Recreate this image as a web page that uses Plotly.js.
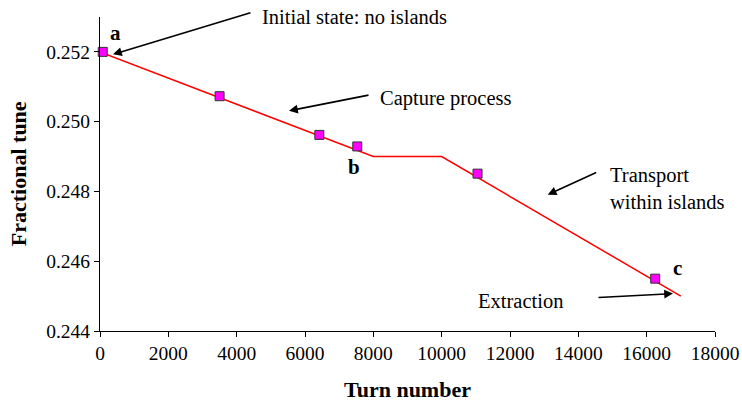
<!DOCTYPE html>
<html>
<head>
<meta charset="utf-8">
<script src="https://cdn.plot.ly/plotly-3.0.1.min.js"></script>
<style>html,body{margin:0;padding:0;background:#fff;}#chart{width:742px;height:405px;}</style>
</head>
<body>
<div id="chart"></div>
<script>
var lineTurns = [0, 8000, 10000, 17000];
var lineTune = [0.252, 0.249, 0.249, 0.245];
var markerTurns = [80, 3500, 6420, 7530, 11050, 16250];
var markerTune = [0.252, 0.25073, 0.24962, 0.24929, 0.24851, 0.2455];
var xTickVals = [0, 2000, 4000, 6000, 8000, 10000, 12000, 14000, 16000, 18000];
var xTickText = ['0', '2000', '4000', '6000', '8000', '10000', '12000', '14000', '16000', '18000'];
var yTickVals = [0.244, 0.246, 0.248, 0.250, 0.252];
var yTickText = ['0.244', '0.246', '0.248', '0.250', '0.252'];
var xTitle = 'Turn number';
var yTitle = 'Fractional tune';

var FONT = 'Liberation Serif';

var traces = [
  {x: lineTurns, y: lineTune, mode: 'lines', type: 'scatter',
   line: {color: '#ff0000', width: 1.5}, hoverinfo: 'skip', cliponaxis: false},
  {x: markerTurns, y: markerTune, mode: 'markers', type: 'scatter',
   marker: {symbol: 'square', size: 9, color: '#ff00ff', line: {color: '#333333', width: 1}},
   cliponaxis: false}
];

var arrowBase = {text: '', showarrow: true, arrowhead: 2, arrowsize: 1.1, arrowwidth: 1.6,
  arrowcolor: '#000', standoff: 0, startstandoff: 0, xref: 'x', yref: 'y'};
function arrow(x, y, ax, ay) { return Object.assign({}, arrowBase, {x: x, y: y, ax: ax, ay: ay}); }
function label(x, y, t, opts) {
  return Object.assign({x: x, y: y, xref: 'x', yref: 'y', text: t, showarrow: false,
    xanchor: 'left', yanchor: 'middle', align: 'left',
    font: {family: FONT, size: 20.5, color: '#000'}}, opts || {});
}
var bold = {xanchor: 'center', font: {family: FONT, size: 21, color: '#000', weight: 'bold'}};
var titleFont = {family: FONT, size: 22, color: '#000'};

var annotations = [
  arrow(380, 0.25193, 139, -42),
  arrow(5532, 0.25031, 81, -16),
  arrow(13104, 0.247906, 50, -23),
  arrow(16771, 0.245073, -76, 4),
  label(4683, 0.253, 'Initial state: no islands'),
  label(8137, 0.250653, 'Capture process'),
  label(14868, 0.248078, 'Transport<br>within islands'),
  label(11005, 0.244853, 'Extraction'),
  label(468, 0.252542, '<b>a</b>', bold),
  label(7434, 0.248707, '<b>b</b>', bold),
  label(16888, 0.245817, '<b>c</b>', bold),
  {xref: 'paper', yref: 'paper', x: 0.5, y: -0.2305, xanchor: 'center', yanchor: 'bottom',
   borderpad: 0, text: '<b>' + xTitle + '</b>', showarrow: false, font: titleFont},
  {xref: 'paper', yref: 'paper', x: -0.133, y: 0.5, xanchor: 'center', yanchor: 'middle',
   textangle: -90, text: '<b>' + yTitle + '</b>', showarrow: false, font: titleFont}
];

var layout = {
  width: 742, height: 405,
  margin: {l: 100, r: 27, t: 17, b: 73.5, pad: 0},
  paper_bgcolor: '#fff', plot_bgcolor: '#fff',
  showlegend: false,
  font: {family: FONT, size: 19, color: '#000'},
  xaxis: {range: [0, 18000], tickvals: xTickVals, ticktext: xTickText, ticks: 'outside', ticklen: 5,
    tickcolor: '#000', showline: true, linecolor: '#000', linewidth: 1,
    showgrid: false, zeroline: false, tickfont: {family: FONT, size: 19.5, color: '#000'}},
  yaxis: {range: [0.244, 0.253], tickvals: yTickVals, ticktext: yTickText, ticks: 'outside', ticklen: 5,
    tickcolor: '#000', showline: true, linecolor: '#000', linewidth: 1,
    showgrid: false, zeroline: false, tickfont: {family: FONT, size: 19.5, color: '#000'}},
  annotations: annotations
};

Plotly.newPlot('chart', traces, layout, {staticPlot: true, displayModeBar: false});
</script>
</body>
</html>
